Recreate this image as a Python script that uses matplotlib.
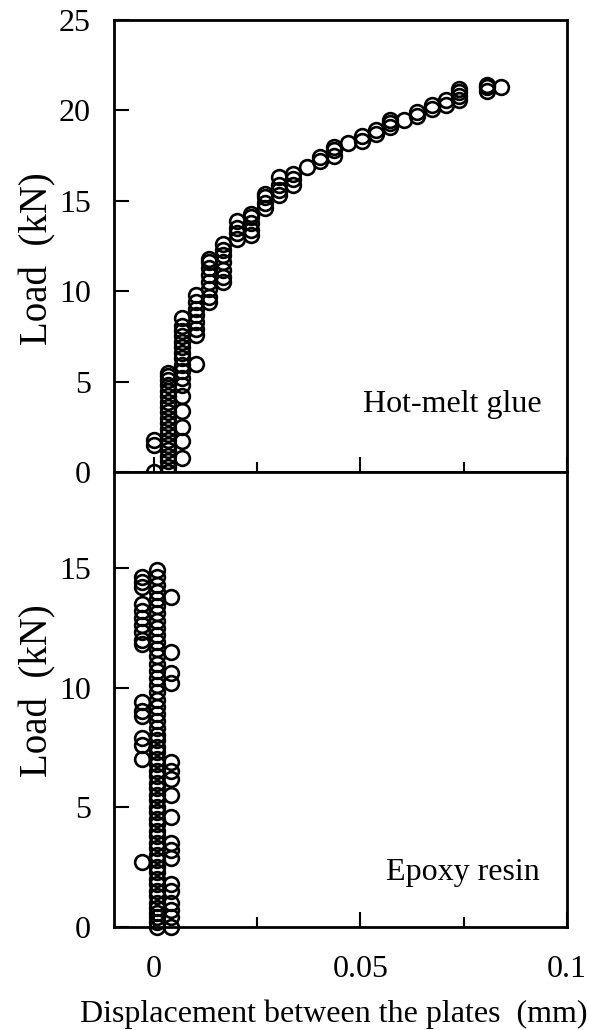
import matplotlib
matplotlib.use("Agg")
import matplotlib.pyplot as plt
import numpy as np
from matplotlib.ticker import MultipleLocator

# Hot-melt glue: displacement steps (mm) and the loads (kN) logged at each step
hot_disp = [0.0, 0.0034, 0.0067, 0.0101, 0.0134, 0.0168, 0.0202, 0.0235,
            0.0269, 0.0302, 0.0336, 0.0370, 0.0403, 0.0437, 0.0470, 0.0504,
            0.0538, 0.0571, 0.0605, 0.0638, 0.0672, 0.0706, 0.0739, 0.0806,
            0.0840]
hot_load = [
    [0.0, 1.5, 1.8],
    [0.0, 0.3, 0.6, 0.9, 1.2, 1.5, 1.8, 2.1, 2.4, 2.7, 3.0, 3.3, 3.6, 3.9,
     4.2, 4.5, 4.8, 5.1, 5.3, 5.5],
    [0.8, 1.7, 2.5, 3.4, 4.2, 4.8, 5.2, 5.6, 5.9, 6.3, 6.6, 6.9, 7.2, 7.5,
     7.8, 8.1, 8.5],
    [6.0, 7.6, 7.9, 8.3, 8.7, 9.0, 9.4, 9.8],
    [9.4, 9.7, 10.1, 10.5, 10.9, 11.3, 11.6, 11.8],
    [10.5, 10.8, 11.2, 11.6, 12.0, 12.3, 12.6],
    [12.9, 13.2, 13.5, 13.9],
    [13.1, 13.4, 13.8, 14.1, 14.3],
    [14.6, 14.9, 15.2, 15.4],
    [15.3, 15.6, 15.9, 16.3],
    [15.9, 16.2, 16.5],
    [16.9],
    [17.2, 17.4],
    [17.5, 17.8, 18.0],
    [18.2],
    [18.3, 18.6],
    [18.7, 18.9],
    [19.1, 19.3, 19.5],
    [19.5],
    [19.7, 19.9],
    [20.1, 20.3],
    [20.3, 20.6],
    [20.6, 20.8, 21.0, 21.2],
    [21.1, 21.3, 21.4],
    [21.3],
]

# Epoxy resin: three displacement readings and their loads (kN)
epoxy_disp = [-0.0028, 0.0007, 0.0042]
epoxy_load = [
    [14.6, 14.4, 14.2, 13.5, 13.2, 12.9, 12.6, 12.3, 12.0, 11.8,
     9.4, 9.0, 8.8, 7.9, 7.6, 7.0, 2.7],
    [0.0, 0.2, 0.4, 0.6, 0.8, 1.0, 1.3, 1.5, 1.8, 2.0, 2.3, 2.5, 2.8, 3.0,
     3.3, 3.5, 3.8, 4.0, 4.3, 4.5, 4.8, 5.0, 5.3, 5.5, 5.8, 6.0, 6.3, 6.5,
     6.8, 7.0, 7.3, 7.5, 7.8, 8.0, 8.3, 8.6, 8.9, 9.2, 9.5, 9.8, 10.1, 10.4,
     10.7, 11.0, 11.3, 11.6, 11.9, 12.2, 12.5, 12.8, 13.1, 13.4, 13.7, 14.0,
     14.3, 14.6, 14.9],
    [13.8, 11.5, 10.6, 10.2, 6.9, 6.5, 6.2, 5.5, 4.6, 3.5, 3.2, 2.9,
     1.8, 1.5, 1.0, 0.7, 0.4, 0.0],
]

x_ticks = [0, 0.05, 0.1]
x_tick_labels = ["0", "0.05", "0.1"]
top_y_ticks = [0, 5, 10, 15, 20, 25]
bottom_y_ticks = [0, 5, 10, 15]

plt.rcParams["font.family"] = ["Liberation Serif", "DejaVu Serif"]


def flatten(disp, loads):
    xs = np.concatenate([[d] * len(l) for d, l in zip(disp, loads)])
    ys = np.concatenate(loads)
    return xs, ys


fig = plt.figure(figsize=(5.89, 10.30), dpi=100)
ax1 = fig.add_axes([0.1935, 0.5417, 0.7691, 0.4388])
ax2 = fig.add_axes([0.1935, 0.1000, 0.7691, 0.4417])

marker_kw = dict(marker="o", linestyle="none", markersize=10.6,
                 markerfacecolor="none", markeredgecolor="black",
                 markeredgewidth=1.9)

hx, hy = flatten(hot_disp, hot_load)
ax1.plot(hx, hy, **marker_kw)
ex, ey = flatten(epoxy_disp, epoxy_load)
ax2.plot(ex, ey, clip_on=False, **marker_kw)

for ax in (ax1, ax2):
    ax.set_xlim(-0.0097, 0.1)
    ax.set_xticks(x_ticks)
    ax.xaxis.set_minor_locator(MultipleLocator(0.025))
    ax.tick_params(which="major", direction="in", length=11, width=1.5,
                   labelsize=23, top=False, right=False)
    ax.tick_params(axis="y", pad=16.5)
    ax.tick_params(axis="x", pad=20)
    ax.tick_params(which="minor", direction="in", length=7, width=1.5,
                   top=False, right=False)
    for sp in ax.spines.values():
        sp.set_linewidth(2.0)

ax1.set_ylim(0, 25)
ax1.set_yticks(top_y_ticks)
ax1.tick_params(axis="x", labelbottom=False)
ax2.set_ylim(0, 19)
ax2.set_yticks(bottom_y_ticks)
ax2.set_xticklabels(x_tick_labels)

ax1.text(-0.167, 0.473, "Load  (kN)", transform=ax1.transAxes,
         rotation=90, ha="center", va="center", fontsize=28)
ax2.text(-0.167, 0.52, "Load  (kN)", transform=ax2.transAxes,
         rotation=90, ha="center", va="center", fontsize=28)

ax1.text(0.945, 0.133, "Hot-melt glue", transform=ax1.transAxes,
         ha="right", va="baseline", fontsize=23)
ax2.text(0.94, 0.103, "Epoxy resin", transform=ax2.transAxes,
         ha="right", va="baseline", fontsize=23)

fig.text(0.567, 0.008, "Displacement between the plates  (mm)",
         ha="center", va="baseline", fontsize=23)

fig.savefig("out.png", dpi=100)
